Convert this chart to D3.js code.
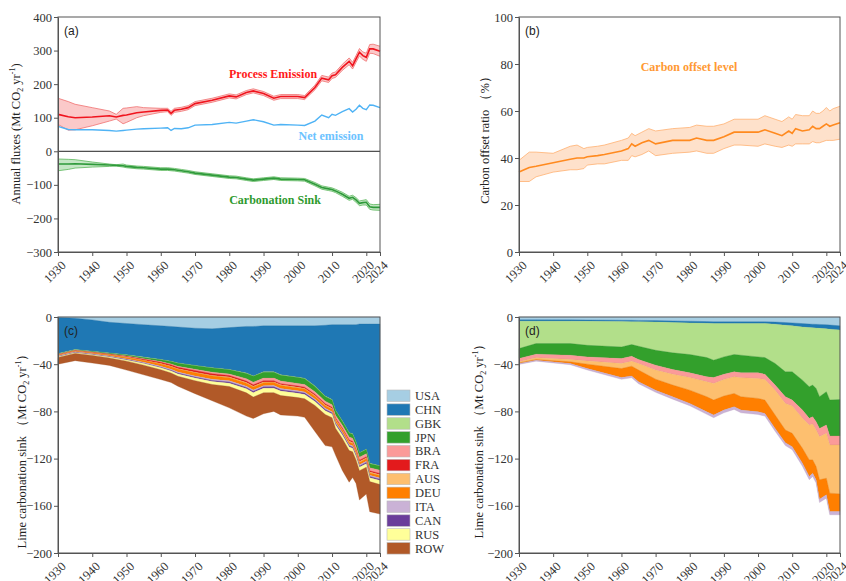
<!DOCTYPE html>
<html>
<head>
<meta charset="utf-8">
<script src="https://cdn.jsdelivr.net/npm/d3@7"></script>
<style>
body { margin: 0; background: #fff; }
text { font-family: "Liberation Serif", "Times New Roman", serif; }
</style>
</head>
<body>
<div id="chart"></div>
<script>
// ---- data: panel (a) and (b) ----
const yearsA = [1930,1933,1935,1940,1945,1947,1949,1950,1953,1955,1960,1962,1963,1964,1966,1968,1970,1975,1980,1982,1985,1987,1990,1993,1995,2000,2002,2005,2007,2009,2010,2011,2013,2015,2016,2017,2018,2019,2020,2021,2022,2024];

const processMean = [110,103,100,102,106,102,107,108,115,117,122,123,113,122,125,130,142,152,165,162,175,180,172,158,163,163,160,190,218,213,225,228,250,268,255,275,295,285,280,305,305,298];
const processLow = [80,63,64,76,90,96,82,86,100,106,116,118,107,116,119,124,136,146,159,156,169,174,166,152,157,157,154,183,210,205,217,220,241,258,245,265,284,274,268,292,291,283];
const processHigh = [158,148,140,130,120,110,128,129,133,130,128,128,119,128,131,136,148,158,171,168,181,186,178,164,169,169,166,197,226,221,233,236,259,278,265,285,306,296,292,318,319,313];

const netEmission = [74,65,64,64,62,60,62,63,66,67,69,70,62,68,67,70,78,80,86,84,90,94,88,78,80,78,77,90,108,100,110,107,118,127,117,125,137,128,124,138,137,130];

const sinkMean = [-38,-38,-37,-39,-41,-42,-43,-45,-48,-49,-53,-53,-54,-55,-58,-61,-65,-71,-77,-78,-83,-86,-83,-80,-83,-84,-85,-98,-108,-112,-114,-118,-128,-140,-137,-145,-155,-153,-152,-165,-167,-167];
const sinkLow = [-58,-54,-50,-47,-45,-44,-47,-49,-52,-53,-57,-57,-58,-59,-62,-65,-69,-75,-81,-82,-87,-90,-87,-84,-87,-88,-89,-103,-113,-117,-119,-123,-134,-146,-143,-152,-162,-160,-160,-173,-175,-176];
const sinkHigh = [-23,-24,-25,-32,-38,-40,-38,-41,-44,-45,-49,-49,-50,-51,-54,-57,-61,-67,-73,-74,-79,-82,-79,-76,-79,-80,-81,-93,-103,-107,-109,-113,-122,-134,-131,-138,-148,-146,-144,-157,-159,-158];

const offsetMean = [34,36,36.5,38,39.5,40,40,40.5,41,41.5,43,44,46,45,46.5,47.5,46,47.5,47.5,48.5,47.5,47.5,49,51,51,51,52,50.5,49.5,51.5,50.5,52.5,51.5,52,53.5,52.5,52.5,53.5,54.5,53.5,54,55];
const offsetLow = [30,30,32,34,35,35,35.5,37,37.5,37.5,39,39,41,40.5,41.5,43,41,42,42.5,43,42,42,44,45.5,45.5,45,46,45,44.5,45.5,45,46,46,46,47,46.5,46.5,47,47.5,47.5,47.5,48];
const offsetHigh = [39,42.5,42.5,42,45,45.5,44,44.5,45,45.5,47.5,48.5,50.5,49.5,51,52.5,51.5,52.5,53,54,53.5,53.5,54.5,56.5,56.5,56.5,58,56.5,55.5,57.5,56.5,58.5,58,58,60,59,59,60,61.5,60,61,62];

// ---- data: panel (c), sink by country (Mt CO2 / yr, magnitude) ----
const countries = ["USA","CHN","GBK","JPN","BRA","FRA","AUS","DEU","ITA","CAN","RUS","ROW"];
const yearsC = [1930,1935,1940,1945,1950,1955,1960,1963,1965,1970,1975,1980,1985,1987,1990,1993,1995,2000,2002,2005,2008,2010,2011,2013,2015,2016,2017,2018,2020,2021,2024];
const USA = [0.5,1,2.5,4.5,5.5,6.5,7.5,8,8.5,9.5,10,9,8,8,7.5,7.5,7.5,7.5,7.5,7.5,7,6.5,6.5,6.5,6.5,6.5,6.5,6,6,6,6];
const CHN = [30.5,26.6,26.5,26,26.5,27.5,28.5,29.5,30.5,31.5,33,35.5,39.5,42,39,39,41.5,43.5,44.5,51,60,63.5,72.5,81.5,91.5,92.5,99.5,109,106,118,120];
const GBK = [0.3,0.3,0.3,0.3,0.3,0.3,0.3,0.3,0.3,0.3,0.3,0.3,0.3,0.3,0.3,0.3,0.3,0.3,0.3,0.3,0.3,0.3,0.3,0.3,0.3,0.3,0.3,0.3,0.3,0.3,0.3];
const JPN = [0.3,0.3,0.4,0.5,0.7,1,1.5,2,2.5,3,3.5,3.5,4.5,5,5,5,5,5,5,4.5,4,4,4,3.5,3.5,3.5,3.5,3.5,3.5,3.5,3.5];
const BRA = [0.3,0.3,0.3,0.3,0.4,0.5,0.6,0.7,0.8,1,1.2,1.3,2,2.2,2.2,2.2,2.2,2.2,2.2,2.2,2.2,2.2,2.2,2.3,2.5,2.5,2.5,2.6,2.6,2.6,2.8];
const FRA = [0.3,0.3,0.3,0.4,0.6,0.8,1,1.2,1.3,1.5,1.5,1.3,1.2,1.2,1.1,1,1,1,1,1,1,1,1,1,1,1,1,1,1,1,1];
const AUS = [0.2,0.2,0.2,0.2,0.3,0.3,0.4,0.4,0.4,0.5,0.5,0.5,0.6,0.6,0.6,0.6,0.6,0.6,0.6,0.7,0.7,0.7,0.7,0.7,0.8,0.8,0.8,0.8,0.8,0.8,0.8];
const DEU = [0.5,0.5,0.6,0.8,1.2,1.5,2,2.2,2.4,2.7,2.8,2.7,2.6,2.6,2.5,2.5,2.5,2.4,2.4,2.2,2.1,2,2,2,2,2,2,2,2,2,2];
const ITA = [0.6,0.6,0.6,0.6,0.6,0.7,0.8,0.8,0.8,0.9,1,1,1,1,1,1,1,1,1,1,1,1,1,1,1,1,1,1,1,1,1];
const CAN = [0.2,0.2,0.2,0.3,0.3,0.4,0.5,0.6,0.7,0.8,0.9,1,1.1,1.2,1.2,1.2,1.2,1.2,1.2,1.2,1.2,1.1,1.1,1.1,1.1,1.1,1.1,1.1,1.1,1.1,1.1];
const RUS = [0.6,0.6,0.7,0.8,1,1.3,1.6,1.8,2,2.3,2.5,2.8,3.5,3.8,3.8,3.8,3.8,3.6,3.6,3.4,3.2,3,3,3,3,3,3,3,3,3.2,3.5];
const ROW = [5.7,6.1,6.4,6.3,7.6,8.2,8.3,8,8.5,11,13.8,18.1,19.7,18.1,17.8,15.9,16.4,15.7,15.7,22,26.3,24.7,22.7,27.1,26.8,21.8,19.8,24.7,22.7,25.5,25];
const countrySeries = [USA,CHN,GBK,JPN,BRA,FRA,AUS,DEU,ITA,CAN,RUS,ROW];

// ---- data: panel (d), sink by component (Mt CO2 / yr, magnitude) ----
const layersD = ["L1","L2","L3","L4","L5","L6","L7","L8"];
const yearsD = [1930,1935,1945,1950,1960,1963,1965,1970,1975,1980,1985,1987,1990,1993,1995,2000,2002,2005,2008,2010,2013,2015,2016,2017,2018,2020,2021,2024];
const L1 = [2.3,2.3,2.4,2.5,2.7,2.8,2.9,3,3.3,3.6,3.9,4,4,4,4,4,4,4.3,4.7,5,5.6,6,6.1,6.2,6.3,6.5,6.8,7.5];
const L2 = [1.2,1.2,1.1,1.1,1.2,1.2,1.2,1.2,1.3,1.4,1.5,1.5,1.5,1.5,1.5,1.5,1.5,1.8,2.2,2.5,2.8,3,3.1,3.2,3.3,3.5,3.5,3.5];
const L3 = [23.3,19,19,20.4,21.5,19.4,20.7,24,25.8,26.8,29,31.1,28.3,26.3,26.9,28.3,28.9,33.3,39.6,39,45.1,50.2,48.5,51.2,58,53.4,60.1,59];
const L4 = [8.4,9,9.9,9.8,9.8,9.8,11.2,12.6,14.1,15.5,16.3,14.7,14.7,14.7,14.9,13.5,14.1,18.3,21.1,23.9,25.4,26.7,26.8,28.1,26.8,28.1,30.4,30.8];
const L5 = [2.8,3.1,3.6,3.4,4.2,4.3,3.4,4.2,4,4,4.2,5,4.5,4.2,4.2,4.8,4.5,4.3,5.6,5.1,7,5.6,6.2,7.1,7,7.1,7.7,7.7];
const L6 = [0.9,1.4,2,2.8,4.3,4.2,5.6,7.7,9.2,10.7,12.7,14.1,14,14.1,16.1,16.9,17.4,21.1,22.6,23.1,25.4,29.6,30.4,31,36.6,38,40.8,41.4];
const L7 = [0.5,0.6,1.4,3.7,7.6,8.3,9.9,9.3,9.9,11.2,12.7,12.6,11.9,11.2,11.3,11.3,11.3,11.3,10.7,11.3,12.6,14.1,11.3,11.2,16.4,14.1,15.5,14.9];
const L8 = [0.8,0.8,1,1.2,1.5,1.5,1.6,1.8,2,2,2.2,2.3,2.3,2.3,2.3,2.3,2.3,2.4,2.5,2.5,2.6,2.7,2.7,2.7,2.8,2.8,2.8,2.8];
const layerSeries = [L1,L2,L3,L4,L5,L6,L7,L8];

const xTicks = [1930,1940,1950,1960,1970,1980,1990,2000,2010,2020,2024];

// ---- layout ----
let svg = d3.select("#chart")
	.append("svg")
	.attr("width", 846)
	.attr("height", 581);

const boxes = {
	a: { left: 58, right: 380, top: 17, bottom: 252 },
	b: { left: 519, right: 840, top: 17, bottom: 252 },
	c: { left: 58, right: 380, top: 317, bottom: 553 },
	d: { left: 519, right: 840, top: 317, bottom: 553 }
};

const makePanel = (box, yDomain) => {
	let x = d3.scaleLinear().domain([1930, 2024]).range([box.left, box.right]);
	let y = d3.scaleLinear().domain(yDomain).range([box.bottom, box.top]);
	let g = svg.append("g");
	return { box, x, y, g };
};

const drawAxes = (p, yTicks, tag) => {
	let yAxis = p.g.append("g")
		.attr("transform", "translate(" + p.box.left + ",0)")
		.call(d3.axisLeft(p.y).tickValues(yTicks).tickSize(4).tickSizeOuter(0).tickPadding(2));
	let xAxis = p.g.append("g")
		.attr("transform", "translate(0," + p.box.bottom + ")")
		.call(d3.axisBottom(p.x).tickValues(xTicks).tickFormat(d3.format("d")).tickSize(4).tickSizeOuter(0));
	xAxis.selectAll("text")
		.attr("x", 0).attr("y", 0).attr("dy", "0.35em")
		.attr("text-anchor", "end")
		.attr("transform", "translate(5,11) rotate(-45)");
	[yAxis, xAxis].forEach((a) => {
		a.select(".domain").attr("stroke", "#555");
		a.selectAll(".tick line").attr("stroke", "#555");
		a.selectAll("text").attr("font-size", "12.5px").attr("fill", "#333")
			.attr("font-family", "Liberation Serif, serif");
	});
	p.g.append("rect")
		.attr("x", p.box.left).attr("y", p.box.top)
		.attr("width", p.box.right - p.box.left)
		.attr("height", p.box.bottom - p.box.top)
		.attr("fill", "none").attr("stroke", "#555").attr("stroke-width", 1);
	p.g.append("text")
		.attr("x", p.box.left + 6).attr("y", p.box.top + 18)
		.style("font-family", "Liberation Sans, Arial, sans-serif")
		.attr("font-size", "12px").attr("fill", "#222")
		.text(tag);
};

// rotated axis title with subscript / superscript pieces
const yTitle = (x, y, parts) => {
	let t = svg.append("text")
		.attr("transform", "translate(" + x + "," + y + ") rotate(-90)")
		.attr("text-anchor", "middle")
		.attr("font-size", "12.5px")
		.attr("fill", "#222");
	let shift = 0;
	parts.forEach(([str, s]) => {
		let dy = s - shift;
		shift = s;
		t.append("tspan")
			.attr("dy", dy)
			.attr("font-size", s === 0 ? "12.5px" : "8px")
			.text(str);
	});
};

const bandArea = (p, years, lo, hi) => d3.area()
	.x((d, i) => p.x(years[i]))
	.y0((d, i) => p.y(lo[i]))
	.y1((d, i) => p.y(hi[i]));

const lineOf = (p, years) => d3.line()
	.x((d, i) => p.x(years[i]))
	.y((d) => p.y(d));

const drawBand = (p, years, mean, lo, hi, fill, edge, stroke) => {
	p.g.append("path")
		.attr("d", bandArea(p, years, lo, hi)(mean))
		.attr("fill", fill);
	[lo, hi].forEach((s) => {
		p.g.append("path")
			.attr("d", lineOf(p, years)(s))
			.attr("fill", "none").attr("stroke", edge).attr("stroke-width", 0.8);
	});
	p.g.append("path")
		.attr("d", lineOf(p, years)(mean))
		.attr("fill", "none").attr("stroke", stroke).attr("stroke-width", 1.6);
};

// ---- (a) annual fluxes ----
let pa = makePanel(boxes.a, [-300, 400]);
drawBand(pa, yearsA, processMean, processLow, processHigh, "rgba(245,120,120,0.4)", "#f07070", "#f0141e");
drawBand(pa, yearsA, sinkMean, sinkLow, sinkHigh, "rgba(110,195,110,0.4)", "#5cb85c", "#2e9a3a");
pa.g.append("path")
	.attr("d", lineOf(pa, yearsA)(netEmission))
	.attr("fill", "none").attr("stroke", "#4fb3f5").attr("stroke-width", 1.4);
pa.g.append("line")
	.attr("x1", boxes.a.left).attr("x2", boxes.a.right)
	.attr("y1", pa.y(0)).attr("y2", pa.y(0))
	.attr("stroke", "#222").attr("stroke-width", 1);
drawAxes(pa, [-300, -200, -100, 0, 100, 200, 300, 400], "(a)");

const note = (x, y, color, str) => {
	svg.append("text")
		.attr("x", x).attr("y", y)
		.attr("text-anchor", "middle")
		.attr("font-weight", "bold")
		.attr("font-size", "12px")
		.attr("fill", color)
		.text(str);
};
note(273, 78, "#ff1a1a", "Process Emission");
note(331, 140, "#6cc3ff", "Net emission");
note(275, 204, "#2e9a2e", "Carbonation Sink");
yTitle(20, 134, [["Annual fluxes (Mt CO", 0], ["2", 3], [" yr", 0], ["-1", -5], [")", 0]]);

// ---- (b) carbon offset ratio ----
let pb = makePanel(boxes.b, [0, 100]);
drawBand(pb, yearsA, offsetMean, offsetLow, offsetHigh, "rgba(253,200,160,0.55)", "#ffb070", "#ff8a1f");
drawAxes(pb, [0, 20, 40, 60, 80, 100], "(b)");
note(689, 71, "#ff9933", "Carbon offset level");
yTitle(489, 137, [["Carbon offset ratio （%）", 0]]);

// ---- stacked panels ----
const drawStack = (p, years, keys, series, colors) => {
	let table = years.map((yr, i) => {
		let row = { year: yr };
		keys.forEach((k, j) => { row[k] = -series[j][i]; });
		return row;
	});
	let stack = d3.stack().keys(keys).offset(d3.stackOffsetDiverging)(table);
	let area = d3.area()
		.x((d) => p.x(d.data.year))
		.y0((d) => p.y(d[0]))
		.y1((d) => p.y(d[1]));
	p.g.selectAll("path.layer").data(stack).enter()
		.append("path")
		.attr("class", "layer")
		.attr("d", area)
		.attr("fill", (d, i) => colors[i])
		.attr("stroke", (d, i) => d3.color(colors[i]).darker(0.3))
		.attr("stroke-width", 0.3);
};

const palette = d3.schemePaired;

let pc = makePanel(boxes.c, [-200, 0]);
drawStack(pc, yearsC, countries, countrySeries, palette);
drawAxes(pc, [-200, -160, -120, -80, -40, 0], "(c)");
yTitle(26, 448, [["Lime carbonation sink （Mt CO", 0], ["2", 3], [" yr", 0], ["-1", -5], ["）", 0]]);

// legend
let legend = svg.append("g").attr("transform", "translate(387,390)");
countries.forEach((c, i) => {
	let row = legend.append("g").attr("transform", "translate(0," + (i * 13.87) + ")");
	row.append("rect")
		.attr("width", 23).attr("height", 11.5)
		.attr("fill", palette[i])
		.attr("stroke", "#bbb").attr("stroke-width", 0.6);
	row.append("text")
		.attr("x", 28).attr("y", 10)
		.attr("font-size", "12.5px").attr("fill", "#333")
		.text(c);
});

let pd = makePanel(boxes.d, [-200, 0]);
drawStack(pd, yearsD, layersD, layerSeries, [palette[0], palette[1], palette[2], palette[3], palette[4], palette[6], palette[7], palette[8]]);
drawAxes(pd, [-200, -160, -120, -80, -40, 0], "(d)");
yTitle(483, 438, [["Lime carbonation sink （Mt CO", 0], ["2", 3], [" yr", 0], ["-1", -5], ["）", 0]]);
</script>
</body>
</html>
